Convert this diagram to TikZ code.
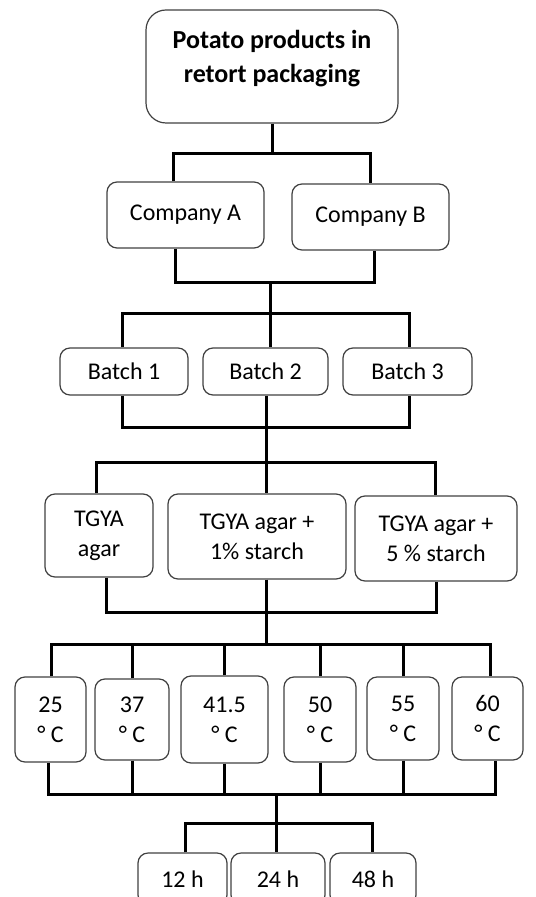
\documentclass[tikz,border=0pt]{standalone}
\usepackage{fontspec}
\setmainfont{Carlito}
\usepackage{tikz}

\begin{document}
\begin{tikzpicture}[x=0.5pt, y=-0.5pt]
  \tikzstyle{every node} = [inner sep = 0,
                            align = center,
                            font = \fontsize{12}{15}\selectfont]
  \tikzstyle{Box} = [draw = black!75, line width = 0.6pt,
                     rounded corners = 5pt]
  \tikzstyle{Wire} = [line width = 1.5pt]
\useasboundingbox (0,0) rectangle (535,897);
\clip (0,0) rectangle (535,897);

\node[Box, minimum width = 126pt, minimum height = 56.5pt,
      rounded corners = 10pt] (P0) at (272,66.5) {};
\node[font = \fontsize{13}{17}\selectfont\bfseries] (P0t) at (272,59)
  {Potato products in\\retort packaging};

\node[Box, minimum width = 78.5pt, minimum height = 33pt] (C1) at (185.5,215) {Company A};
\node[Box, minimum width = 78.5pt, minimum height = 33pt] (C2) at (370.5,217) {Company B};

\node[Box, minimum width = 64pt, minimum height = 23.5pt] (B1) at (124,371.5) {Batch 1};
\node[Box, minimum width = 62.5pt, minimum height = 23.5pt] (B2) at (265.5,371.5) {Batch 2};
\node[Box, minimum width = 64.5pt, minimum height = 23.5pt] (B3) at (407.5,371.5) {Batch 3};

\node[Box, minimum width = 54pt, minimum height = 41.5pt] (M1) at (99,535.5) {TGYA\\agar};
\node[Box, minimum width = 89pt, minimum height = 42.5pt] (M2) at (257,536.5) {TGYA agar +\\1\% starch};
\node[Box, minimum width = 81pt, minimum height = 42.5pt] (M3) at (436,538.5) {TGYA agar +\\5 \% starch};

\node[Box, minimum width = 35.5pt, minimum height = 42.5pt] (T1) at (50.5,719.5) {25\\° C};
\node[Box, minimum width = 37pt, minimum height = 40.5pt] (T2) at (132,719.5) {37\\° C};
\node[Box, minimum width = 43.5pt, minimum height = 43.5pt] (T3) at (224.5,719.5) {41.5\\° C};
\node[Box, minimum width = 36pt, minimum height = 42.5pt] (T4) at (320,719.5) {50\\° C};
\node[Box, minimum width = 36pt, minimum height = 41.5pt] (T5) at (403,718.5) {55\\° C};
\node[Box, minimum width = 35.5pt, minimum height = 41.5pt] (T6) at (487.5,718.5) {60\\° C};

\node[Box, minimum width = 44.5pt, minimum height = 26pt] (H1) at (182.5,879) {12 h};
\node[Box, minimum width = 47pt, minimum height = 26pt] (H2) at (278,879) {24 h};
\node[Box, minimum width = 43pt, minimum height = 26pt] (H3) at (373,879) {48 h};

\coordinate (J1a) at (173,154);
\coordinate (J1b) at (370,154);
\coordinate (J2a) at (175,283);
\coordinate (J2) at (270,283);
\coordinate (J2b) at (374,283);
\coordinate (J3a) at (122,314);
\coordinate (J3b) at (409,314);
\coordinate (J4a) at (122,427);
\coordinate (J4b) at (409,427);
\coordinate (J5a) at (96,462);
\coordinate (J5) at (266,462);
\coordinate (J5b) at (435,462);
\coordinate (J6a) at (106,612);
\coordinate (J6) at (266,612);
\coordinate (J6b) at (436,612);
\coordinate (J7a) at (51,644);
\coordinate (J7) at (266,644);
\coordinate (J7b) at (490,644);
\coordinate (J8a) at (48,794);
\coordinate (J8) at (276,794);
\coordinate (J8b) at (495,794);
\coordinate (J9a) at (185,823);
\coordinate (J9) at (276,823);
\coordinate (J9b) at (372,823);

\draw[Wire] (P0.south) -- (P0.south |- J1a);
\draw[Wire] (C1.north -| J1a) -- (J1a) -- (J1b) -- (C2.north -| J1b);
\draw[Wire] (C1.south -| J2a) -- (J2a) -- (J2b) -- (C2.south -| J2b);
\draw[Wire] (J2) -- (B2.north -| J2);
\draw[Wire] (B1.north -| J3a) -- (J3a) -- (J3b) -- (B3.north -| J3b);
\draw[Wire] (B1.south -| J4a) -- (J4a) -- (J4b) -- (B3.south -| J4b);
\draw[Wire] (B2.south -| J5) -- (M2.north -| J5);
\draw[Wire] (M1.north -| J5a) -- (J5a) -- (J5b) -- (M3.north -| J5b);
\draw[Wire] (M1.south -| J6a) -- (J6a) -- (J6b) -- (M3.south -| J6b);
\draw[Wire] (M2.south -| J6) -- (J7);
\draw[Wire] (T1.north -| J7a) -- (J7a) -- (J7b) -- (T6.north -| J7b);
\draw[Wire] (T2.north) -- (T2.north |- J7);
\draw[Wire] (T3.north) -- (T3.north |- J7);
\draw[Wire] (T4.north) -- (T4.north |- J7);
\draw[Wire] (T5.north) -- (T5.north |- J7);
\draw[Wire] (T1.south -| J8a) -- (J8a) -- (J8b) -- (T6.south -| J8b);
\draw[Wire] (T2.south) -- (T2.south |- J8);
\draw[Wire] (T3.south) -- (T3.south |- J8);
\draw[Wire] (T4.south) -- (T4.south |- J8);
\draw[Wire] (T5.south) -- (T5.south |- J8);
\draw[Wire] (J8) -- (J9);
\draw[Wire] (H1.north -| J9a) -- (J9a) -- (J9b) -- (H3.north -| J9b);
\draw[Wire] (J9) -- (H2.north -| J9);

\end{tikzpicture}
\end{document}
